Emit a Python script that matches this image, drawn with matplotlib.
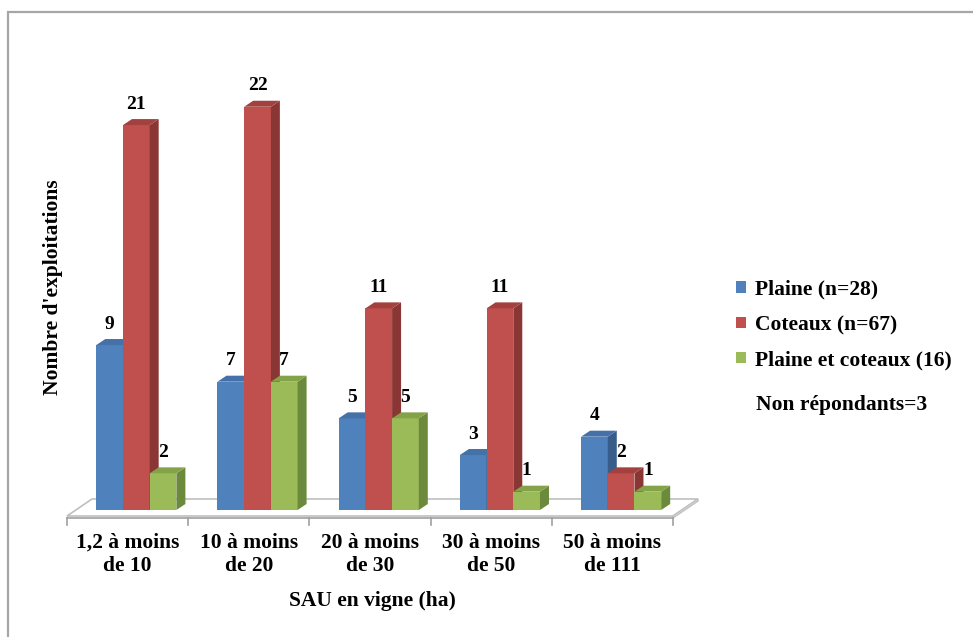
import numpy as np
import matplotlib
matplotlib.use("Agg")
import matplotlib.pyplot as plt
from matplotlib.patches import Polygon, Rectangle, Patch

#%% Data

categories = ["1,2 à moins\nde 10", "10 à moins\nde 20", "20 à moins\nde 30",
              "30 à moins\nde 50", "50 à moins\nde 111"]
series_names = ["Plaine (n=28)", "Coteaux (n=67)", "Plaine et coteaux (16)"]
plaine = [9, 7, 5, 3, 4]
coteaux = [21, 22, 11, 11, 2]
plaine_coteaux = [2, 7, 5, 1, 1]
note = "Non répondants=3"
x_title = "SAU en vigne (ha)"
y_title = "Nombre d'exploitations"

# Excel 2007 palette, front / side / top faces
front_colors = ["#4F81BD", "#C0504D", "#9BBB59"]
side_colors = ["#385D8A", "#8A3634", "#6B8A3B"]
top_colors = ["#4571A8", "#A3413F", "#84A349"]

#%% Figure

plt.rcParams['font.family'] = ['Liberation Serif', 'DejaVu Serif']
plt.rcParams['font.weight'] = 'bold'

W, H = 973, 637
fig = plt.figure(figsize=(W / 100, H / 100), dpi=100)

# outer chart border (only top and left edges are visible)
fig.add_artist(Rectangle((7.5 / W, -0.2), 1.2, 1.2 - 11.5 / H,
                         transform=fig.transFigure, fill=False,
                         edgecolor='#A6A6A6', lw=1.6))

# pixel scale of the plot area
px_x = 121.2   # pixels per category
px_y = 18.33   # pixels per bar unit
ax = fig.add_axes([67 / W, (H - 516) / H, 606 / W, 476 / H])
y_floor = -6 / px_y
ax.set_xlim(-0.5, 4.5)
ax.set_ylim(y_floor, y_floor + 476 / px_y)
ax.axis('off')

# floor of the 3D chart
fdx, fdy = 25 / px_x, 17 / px_y
slab = 2 / px_y
n = len(categories)
floor = Polygon([(-0.5, y_floor), (n - 0.5, y_floor),
                 (n - 0.5 + fdx, y_floor + fdy), (-0.5 + fdx, y_floor + fdy)],
                closed=True, facecolor='white', edgecolor='#BFBFBF', lw=1.2,
                zorder=1, clip_on=False)
ax.add_patch(floor)
ax.add_patch(Polygon([(n - 0.5, y_floor), (n - 0.5 + fdx, y_floor + fdy),
                      (n - 0.5 + fdx, y_floor + fdy - slab), (n - 0.5, y_floor - slab)],
                     closed=True, facecolor='white', edgecolor='#BFBFBF', lw=1.0,
                     zorder=1, clip_on=False))
ax.plot([-0.5, n - 0.5], [y_floor - slab, y_floor - slab], color='#A0A0A0', lw=1.2,
        zorder=1, clip_on=False)
for t in np.arange(n + 1) - 0.5:
    ax.plot([t, t], [y_floor - slab, y_floor - 9 / px_y], color='#A0A0A0', lw=1.2,
            zorder=1, clip_on=False)

# bars
bw = 26.7 / px_x
shift = 0.072
bdx, bdy = 9 / px_x, 6 / px_y
series = [plaine, coteaux, plaine_coteaux]
x = np.arange(n)
for k, vals in enumerate(series):
    xc = x + shift + (k - 1) * bw
    bars = ax.bar(xc, vals, width=bw, color=front_colors[k], lw=0,
                  label=series_names[k])
    for i, rect in enumerate(bars):
        z = 2 + i * 3 + k
        rect.set_zorder(z)
        xl = rect.get_x()
        xr = xl + rect.get_width()
        h = rect.get_height()
        ax.add_patch(Polygon([(xr, 0), (xr + bdx, bdy), (xr + bdx, h + bdy), (xr, h)],
                             closed=True, facecolor=side_colors[k], lw=0,
                             zorder=z + 0.1, clip_on=False))
        ax.add_patch(Polygon([(xl, h), (xr, h), (xr + bdx, h + bdy), (xl + bdx, h + bdy)],
                             closed=True, facecolor=top_colors[k], lw=0,
                             zorder=z + 0.1, clip_on=False))
        ax.text(xl + rect.get_width() / 2, h + 21 / px_y, str(h), ha='center',
                va='center', fontsize=14, zorder=30)

# category labels under the floor
for i, cat in enumerate(categories):
    ax.text(i, y_floor - 17 / px_y, cat, ha='center', va='top', fontsize=15.5,
            linespacing=1.2, clip_on=False)

fig.text(372 / W, 1 - 601 / H, x_title, ha='center', va='center', fontsize=15.5)
fig.text(53 / W, 1 - 287 / H, y_title, ha='center', va='center', rotation=90,
         fontsize=15.5)

# legend
handles = [Patch(facecolor=c) for c in front_colors]
fig.legend(handles, series_names, loc='center left',
           bbox_to_anchor=(736 / W, 1 - 325 / H), frameon=False, fontsize=15.5,
           handlelength=0.45, handleheight=0.45, handletextpad=0.45,
           labelspacing=0.7, borderpad=0, borderaxespad=0)
fig.text(756 / W, 1 - 405 / H, note, ha='left', va='center', fontsize=15.5)

fig.savefig('out.png', dpi=100)
